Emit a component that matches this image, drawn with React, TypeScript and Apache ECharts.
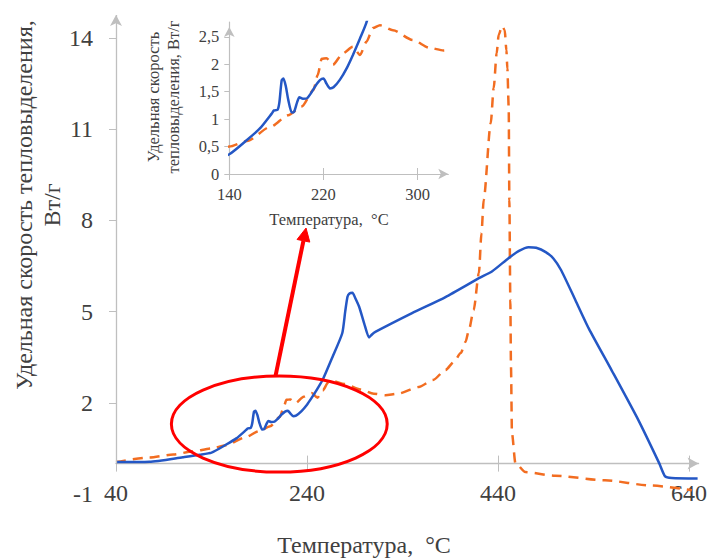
import React, { useEffect, useRef } from 'react';
import * as echarts from 'echarts';

// ---- data (temperature °C, specific heat release rate W/g) ----
const blueT = [40, 75, 110, 128, 140, 155, 166, 176, 178, 181, 182.5, 184.5, 186, 188, 190, 193, 195, 197.5, 199.5, 202.5, 206, 209, 213, 217, 220, 222.5, 225.5, 228.5, 234, 240, 245, 251, 256.3, 266.7, 276.9, 280, 282.4, 284.5, 287.6, 290.5, 294.6, 300, 305, 308, 312, 350, 385, 420, 434, 451, 462, 472, 480, 490, 498, 506, 520, 535, 559, 587, 609, 615, 622, 649];
const blueV = [0.05, 0.06, 0.21, 0.29, 0.36, 0.62, 0.83, 1.1, 1.16, 1.17, 1.3, 1.71, 1.74, 1.6, 1.36, 1.12, 1.13, 1.3, 1.4, 1.37, 1.38, 1.46, 1.6, 1.71, 1.74, 1.65, 1.56, 1.58, 1.72, 1.94, 2.17, 2.47, 2.75, 3.51, 4.29, 5.0, 5.49, 5.6, 5.62, 5.45, 5.16, 4.6, 4.15, 4.25, 4.34, 4.95, 5.48, 6.1, 6.33, 6.76, 7.0, 7.12, 7.1, 6.96, 6.75, 6.37, 5.45, 4.45, 3.07, 1.43, 0.0, -0.42, -0.47, -0.49];

const orangeT = [40, 75, 100, 120, 140, 155, 175, 190, 201.5, 211.5, 215, 218.5, 222.5, 228, 236.5, 245, 251, 256.5, 262, 268, 279, 296, 310, 322, 335, 357, 372, 385, 394, 401, 406, 409.5, 414.5, 420, 422.7, 425, 432.4, 435.5, 438.6, 440.7, 444.2, 447, 448.8, 449.8, 451.2, 451.9, 452.9, 453.6, 454.6, 458.2, 468.6, 500, 552, 600, 643];
const orangeV = [0.05, 0.2, 0.3, 0.4, 0.5, 0.6, 0.86, 1.07, 1.23, 1.53, 1.8, 2.1, 2.11, 1.99, 2.2, 2.32, 2.17, 2.41, 2.66, 2.71, 2.62, 2.44, 2.3, 2.25, 2.3, 2.52, 2.75, 3.08, 3.35, 3.64, 4.0, 4.39, 5.05, 6.27, 7.58, 8.67, 11.2, 12.36, 13.5, 14.1, 14.4, 14.27, 13.6, 13.0, 11.73, 8.67, 5.38, 3.18, 1.0, 0.02, -0.28, -0.4, -0.55, -0.72, -0.88];

const mainXTicks = [40, 240, 440, 640];
const mainYTicks = [-1, 2, 5, 8, 11, 14];
const insetXTicks = [140, 220, 300];
const insetYTicks = [0, 0.5, 1, 1.5, 2, 2.5];

const xTitle = 'Температура,  °C';
const yTitleMain = ['Удельная скорость тепловыделения,', 'Вт/г'];
const yTitleInset = ['Удельная скорость', 'тепловыделения, Вт/г'];

// annotation anchors (data units of the main chart)
const ellipseCenter = [211, 1.3];
const ellipseEdge = [324, 2.88];
const arrowFrom = [207, 2.88];
const arrowTo = [239, 7.75];

const FONT = '"Liberation Serif", "Times New Roman", serif';
const AXIS = '#bfbfbf';
const TXT = '#404040';
const BLUE = '#2457c5';
const ORANGE = '#f26d21';
const RED = '#ff0000';

export default function App() {
  const ref = useRef<HTMLDivElement>(null);
  useEffect(() => {
    if (!ref.current) return;
    const chart = echarts.init(ref.current, undefined, { renderer: 'svg' });
    const blue = blueT.map((t, i) => [t, blueV[i]]);
    const orange = orangeT.map((t, i) => [t, orangeV[i]]);
    const comma = (v: number) => String(v).replace('.', ',');

    const lineSeries = (data: number[][], color: string, dashed: boolean, xi: number, yi: number, extra: any = {}) => ({
      type: 'line',
      data,
      xAxisIndex: xi,
      yAxisIndex: yi,
      showSymbol: false,
      symbol: 'none',
      smooth: dashed ? 0.25 : 0.2,
      smoothMonotone: dashed ? 'x' : undefined,
      silent: true,
      lineStyle: { color, width: 2.5, type: dashed ? [10, 7] : 'solid' },
      ...extra,
    });

    const option: any = {
      animation: false,
      backgroundColor: '#ffffff',
      grid: [
        { left: 116, top: 15, width: 584.5, height: 479 },
        { left: 229.3, top: 22, width: 219, height: 152 },
      ],
      xAxis: [
        {
          gridIndex: 0, type: 'value', min: 40, max: 650, position: 'bottom',
          axisLine: { show: true, onZero: true, onZeroAxisIndex: 0, lineStyle: { color: AXIS, width: 1.3 }, symbol: ['none', 'arrow'], symbolSize: [9, 11] },
          axisTick: { show: true, length: 8, lineStyle: { color: AXIS }, customValues: mainXTicks },
          axisLabel: { customValues: mainXTicks, fontSize: 24, fontFamily: FONT, color: TXT, margin: -13 },
          splitLine: { show: false },
        },
        {
          gridIndex: 0, type: 'value', min: 40, max: 650, position: 'bottom',
          axisLine: { show: false, onZero: true, onZeroAxisIndex: 0 },
          axisTick: { show: true, inside: true, length: 8, lineStyle: { color: AXIS }, customValues: mainXTicks.slice(1) },
          axisLabel: { show: false },
          splitLine: { show: false },
        },
        {
          gridIndex: 1, type: 'value', min: 140, max: 326, position: 'bottom',
          axisLine: { show: true, onZero: false, lineStyle: { color: AXIS, width: 1.2 }, symbol: ['none', 'arrow'], symbolSize: [8, 10] },
          axisTick: { show: true, length: 6, lineStyle: { color: AXIS }, customValues: insetXTicks },
          axisLabel: { customValues: insetXTicks, fontSize: 16.5, fontFamily: FONT, color: TXT, margin: 12 },
          splitLine: { show: false },
        },
        {
          gridIndex: 1, type: 'value', min: 140, max: 326, position: 'bottom',
          axisLine: { show: false, onZero: false },
          axisTick: { show: true, inside: true, length: 6, lineStyle: { color: AXIS }, customValues: insetXTicks.slice(1) },
          axisLabel: { show: false },
          splitLine: { show: false },
        },
      ],
      yAxis: [
        {
          gridIndex: 0, type: 'value', min: -1, max: 14.76,
          axisLine: { show: false },
          axisTick: { show: true, length: 7, lineStyle: { color: AXIS }, customValues: mainYTicks.slice(1) },
          axisLabel: { customValues: mainYTicks, fontSize: 24, fontFamily: FONT, color: TXT, margin: 23 },
          splitLine: { show: false },
        },
        {
          gridIndex: 1, type: 'value', min: 0, max: 2.77,
          axisLine: { show: true, onZero: false, lineStyle: { color: AXIS, width: 1.2 }, symbol: ['none', 'arrow'], symbolSize: [8, 10], symbolOffset: [0, -5] },
          axisTick: { show: true, length: 5, lineStyle: { color: AXIS }, customValues: insetYTicks },
          axisLabel: { customValues: insetYTicks, formatter: comma, fontSize: 16.5, fontFamily: FONT, color: TXT, margin: 10 },
          splitLine: { show: false },
        },
      ],
      series: [
        lineSeries(orange, ORANGE, true, 0, 0, { clip: false }),
        lineSeries(blue, BLUE, false, 0, 0, {
          clip: false,
          markLine: {
            silent: true,
            symbol: ['none', 'arrow'],
            symbolSize: [9, 11],
            label: { show: false },
            lineStyle: { color: AXIS, type: 'solid', width: 1.3 },
            emphasis: { disabled: true },
            data: [[{ coord: [40, 0] }, { coord: [40, 14.76] }]],
          },
        }),
        lineSeries(orange, ORANGE, true, 2, 1, { clip: true }),
        lineSeries(blue, BLUE, false, 2, 1, { clip: true }),
      ],
    };
    chart.setOption(option);

    const px = (p: number[]) => chart.convertToPixel({ xAxisIndex: 0, yAxisIndex: 0 }, p) as number[];
    const c = px(ellipseCenter);
    const e = px(ellipseEdge);
    const a0 = px(arrowFrom);
    const a1 = px(arrowTo);
    const dx = a1[0] - a0[0];
    const dy = a1[1] - a0[1];
    const len = Math.sqrt(dx * dx + dy * dy);
    const ux = dx / len, uy = dy / len;
    const headL = 13, headW = 6.5;
    const bx = a1[0] - ux * headL, by = a1[1] - uy * headL;
    const nx = -uy, ny = ux;

    const textStyle = (text: string, size: number, lh: number) => ({
      text,
      font: `${size}px ${FONT}`,
      fill: TXT,
      align: 'center',
      verticalAlign: 'middle',
      textAlign: 'center',
      textVerticalAlign: 'middle',
      lineHeight: lh,
    });

    chart.setOption({
      graphic: [
        {
          type: 'ellipse', silent: true, z: 10,
          shape: { cx: c[0], cy: c[1], rx: Math.abs(e[0] - c[0]), ry: Math.abs(c[1] - e[1]) },
          style: { fill: 'none', stroke: RED, lineWidth: 3 },
        },
        {
          type: 'line', silent: true, z: 10,
          shape: { x1: a0[0], y1: a0[1], x2: bx, y2: by },
          style: { stroke: RED, lineWidth: 4 },
        },
        {
          type: 'polygon', silent: true, z: 10,
          shape: { points: [[a1[0], a1[1]], [bx + nx * headW, by + ny * headW], [bx - nx * headW, by - ny * headW]] },
          style: { fill: RED, stroke: RED, lineWidth: 1 },
        },
        { type: 'text', x: 364, y: 545, silent: true, style: textStyle(xTitle, 24, 28) },
        { type: 'text', x: 37.5, y: 205, rotation: Math.PI / 2, silent: true, style: textStyle(yTitleMain.join('\n'), 24, 28) },
        { type: 'text', x: 329, y: 219, silent: true, style: textStyle(xTitle, 16.5, 20) },
        { type: 'text', x: 163.5, y: 97, rotation: Math.PI / 2, silent: true, style: textStyle(yTitleInset.join('\n'), 16.5, 20) },
      ],
    });

    return () => chart.dispose();
  }, []);
  return (
    <div
      ref={ref}
      style={{ position: 'fixed', left: 0, top: 0, width: 710, height: 558, background: '#fff' }}
    />
  );
}
